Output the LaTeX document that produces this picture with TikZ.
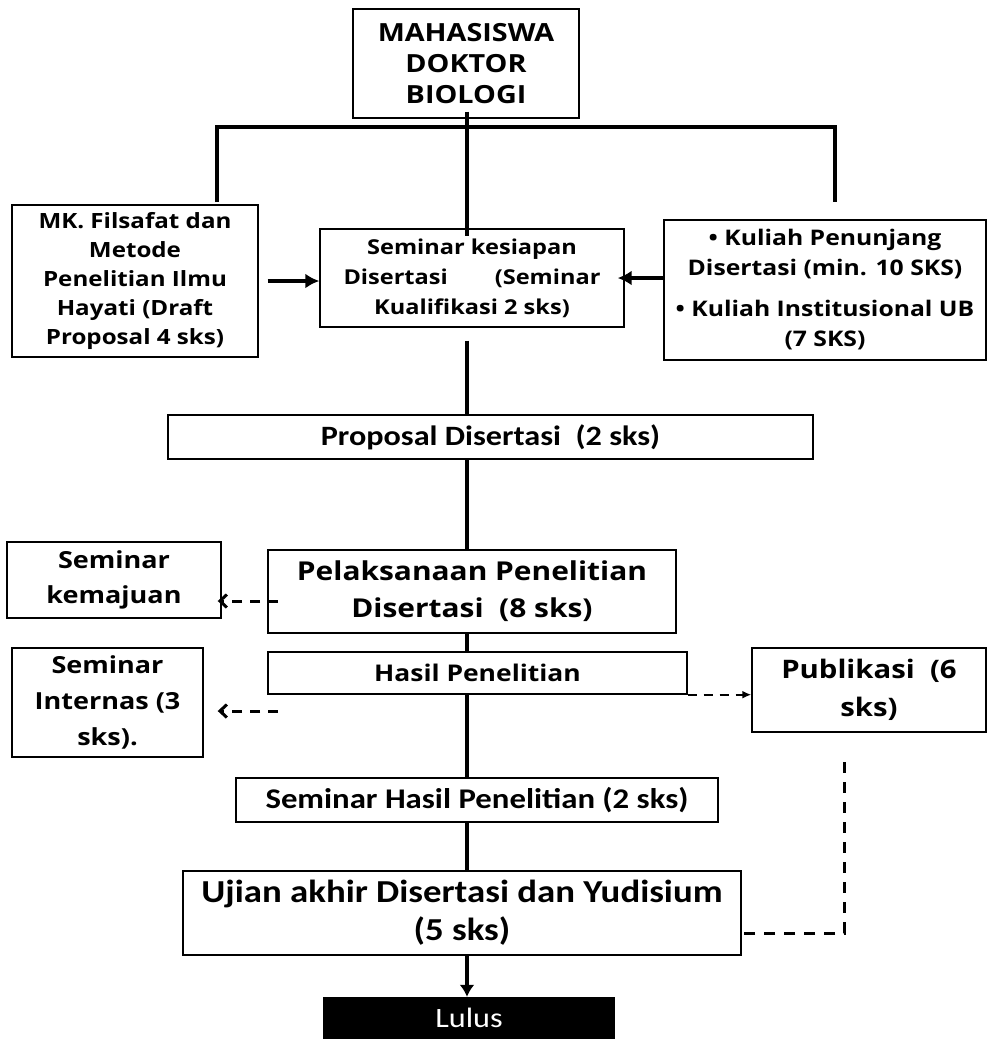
\documentclass[tikz,border=0pt]{standalone}
\usepackage{fontspec}
\setmainfont{Open Sans}[FakeStretch=1.15]
\newfontfamily\calib{Carlito}[FakeStretch=1.15]
\usetikzlibrary{arrows.meta}
\newcommand{\fsz}[2]{\fontsize{#1}{#2}\selectfont}

\begin{document}
\begin{tikzpicture}[x=1pt,y=-1pt,
    box/.style={draw,line width=1.4pt,align=center,inner sep=0pt},
    trunk/.style={line width=4.5pt},
    stem/.style={line width=4pt},
    flow/.style={line width=4pt,-{Latex[length=14pt,width=15pt]}},
    dashflow/.style={line width=3pt,dash pattern=on 10pt off 8pt,
                     -{Straight Barb[length=7pt,width=13pt,line width=3pt]}},
    dashthin/.style={line width=2.4pt,dash pattern=on 9pt off 7pt,
                     -{Latex[length=9pt,width=8pt]}},
    dashline/.style={line width=3pt,dash pattern=on 11pt off 9pt}]

  \useasboundingbox (0,0) rectangle (987,1039);

  \node[box,minimum width=226pt,minimum height=109pt,font=\bfseries\fsz{25}{31}]
       (mhs)    at (466,63.5)  {MAHASISWA\\DOKTOR\\BIOLOGI};
  \node[box,minimum width=246pt,minimum height=152pt,font=\bfseries\fsz{21}{29}]
       (mk)     at (135,281)   {MK. Filsafat dan\\Metode\\Penelitian Ilmu\\Hayati (Draft\\Proposal 4 sks)};
  \node[box,minimum width=304pt,minimum height=98pt,font=\bfseries\fsz{20.5}{30}]
       (sem)    at (472,278)   {Seminar kesiapan\\\makebox[257pt][s]{Disertasi\hfill(Seminar}\\Kualifikasi 2 sks)};
  \node[box,minimum width=322pt,minimum height=140pt,font=\bfseries\fsz{21.5}{30}]
       (kul)    at (825,290)   {\textbullet\ Kuliah Penunjang\\Disertasi (min. 10 SKS)\\[11pt]\textbullet\ Kuliah Institusional UB\\(7 SKS)};
  \node[box,minimum width=645pt,minimum height=44pt,font=\calib\bfseries\fsz{28}{30}]
       (prop)   at (490.5,437) {Proposal Disertasi\ \ (2 sks)};
  \node[box,minimum width=408pt,minimum height=83pt,font=\bfseries\fsz{26}{37}]
       (pel)    at (472,591.5) {Pelaksanaan Penelitian\\Disertasi\ \ (8 sks)};
  \node[box,minimum width=419pt,minimum height=42pt,font=\bfseries\fsz{23}{28}]
       (hasil)  at (477.5,673) {Hasil Penelitian};
  \node[box,minimum width=214pt,minimum height=76pt,font=\bfseries\fsz{23.5}{35}]
       (semkem) at (114,580)   {Seminar\\kemajuan};
  \node[box,minimum width=191pt,minimum height=109pt,font=\bfseries\fsz{23.5}{36}]
       (semint) at (107.5,702.5) {Seminar\\Internas (3\\sks).};
  \node[box,minimum width=234pt,minimum height=84pt,font=\bfseries\fsz{25.5}{38}]
       (pub)    at (869,690)   {Publikasi\ \ (6\\sks)};
  \node[box,minimum width=482pt,minimum height=44pt,font=\calib\bfseries\fsz{28.5}{32}]
       (semhas) at (477,800)   {Seminar Hasil Penelitian (2 sks)};
  \node[box,minimum width=558pt,minimum height=84pt,font=\calib\bfseries\fsz{32}{38}]
       (ujian)  at (462,913)   {Ujian akhir Disertasi dan Yudisium\\(5 sks)};
  \node[fill=black,text=white,minimum width=292pt,minimum height=42pt,inner sep=0pt,
        font=\calib\fsz{28}{32}]
       (lulus)  at (469,1018)  {Lulus};

  % branching from the student box
  \coordinate (barR)   at (835,127);
  \coordinate (mkTop)  at (217,202);
  \coordinate (kulTop) at (835,202);
  \coordinate (ax)     at (467,0);
  \draw[trunk] (mkTop) |- (barR) -- (kulTop);
  \draw[trunk] ([yshift=7pt]mhs.south -| ax) -- ([yshift=-8pt]sem.north -| ax);

  \draw[flow] ([xshift=9pt]mk.east) -- (mk.east -| sem.west);
  \draw[flow] (sem.east -| kul.west) -- ([xshift=-7pt]sem.east);

  % main line
  \draw[stem] ([yshift=-13pt]sem.south -| ax) -- (prop.north -| ax);
  \draw[stem] (prop.south -| ax)   -- (pel.north -| ax);
  \draw[stem] (pel.south -| ax)    -- (hasil.north -| ax);
  \draw[stem] (hasil.south -| ax)  -- (semhas.north -| ax);
  \draw[stem] (semhas.south -| ax) -- (ujian.north -| ax);
  \draw[flow,-{Latex[length=12pt,width=15pt]}] (ujian.south -| ax) -- (lulus.north -| ax);

  % dashed side links
  \coordinate (kemFrom) at (278,601);
  \coordinate (intFrom) at (278,711);
  \coordinate (pubDrop) at (844,762);
  \draw[dashflow] (kemFrom) -- ([xshift=-4pt]kemFrom -| semkem.east);
  \draw[dashflow] (intFrom) -- ([xshift=14pt]intFrom -| semint.east);
  \draw[dashthin] (hasil.south east) -- (hasil.south east -| pub.west);
  \draw[dashline] (pubDrop) |- ([yshift=-20pt]ujian.east);
\end{tikzpicture}
\end{document}
